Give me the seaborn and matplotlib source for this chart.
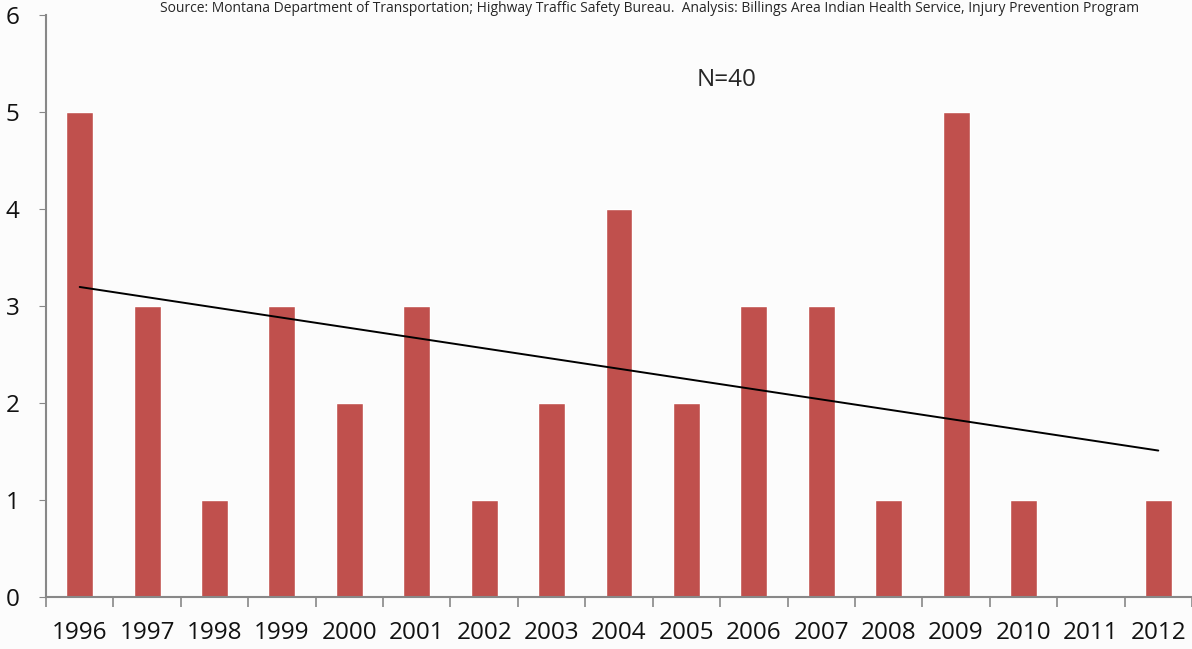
import numpy as np
import pandas as pd
import matplotlib
matplotlib.use("Agg")
import matplotlib.pyplot as plt
import seaborn as sns

# Data
years = ["1996", "1997", "1998", "1999", "2000", "2001", "2002", "2003", "2004",
         "2005", "2006", "2007", "2008", "2009", "2010", "2011", "2012"]
deaths = [5, 3, 1, 3, 2, 3, 1, 2, 4, 2, 3, 3, 1, 5, 1, 0, 1]
source_note = ("Source: Montana Department of Transportation; Highway Traffic Safety Bureau.  "
               "Analysis: Billings Area Indian Health Service, Injury Prevention Program")
n_label = "N=40"

sns.set_style("white")
plt.rcParams["font.family"] = ["Open Sans", "DejaVu Sans"]

df = pd.DataFrame({"year": years, "deaths": deaths})

fig = plt.figure(figsize=(11.92, 6.49), dpi=100)
fig.patch.set_facecolor("#fcfcfc")
ax = fig.add_axes([46 / 1192, 1 - 597 / 649, 1 - 46 / 1192, (597 - 15) / 649])
ax.set_facecolor("#fcfcfc")

sns.barplot(data=df, x="year", y="deaths", order=years, color="#C0504D",
            saturation=1, width=0.4, ax=ax)

# linear trend line
xi = np.arange(len(years))
slope, intercept = np.polyfit(xi, deaths, 1)
ax.plot([xi[0], xi[-1]], [intercept, slope * xi[-1] + intercept], color="black", lw=1.4)

ax.set_ylim(0, 6)
ax.set_xlim(-0.5, len(years) - 0.5)
ax.set_yticks(range(0, 7))
ax.tick_params(axis="y", labelsize=17.5, length=5, color="#888888", pad=14, left=True,
               labelcolor="#111111")

# tick marks between categories, labels at the centers
ax.set_xticks(np.arange(-0.5, len(years), 1.0))
ax.set_xticklabels([])
ax.set_xticks(xi, minor=True)
ax.set_xticklabels(years, minor=True, fontsize=17.5, color="#111111")
ax.tick_params(axis="x", which="major", length=7, color="#888888", width=1.2, bottom=True)
ax.tick_params(axis="x", which="minor", length=0, pad=17)

ax.set_xlabel("")
ax.set_ylabel("")
for side in ["top", "right"]:
    ax.spines[side].set_visible(False)
for side in ["left", "bottom"]:
    ax.spines[side].set_color("#888888")
    ax.spines[side].set_linewidth(1.5)

ax.text(9.6, 5.33, n_label, ha="center", va="center", fontsize=17.5)
fig.text(650 / 1192, 1 - 8 / 649, source_note, ha="center", va="center", fontsize=10)

fig.savefig("out.png", dpi=100, facecolor=fig.get_facecolor())
